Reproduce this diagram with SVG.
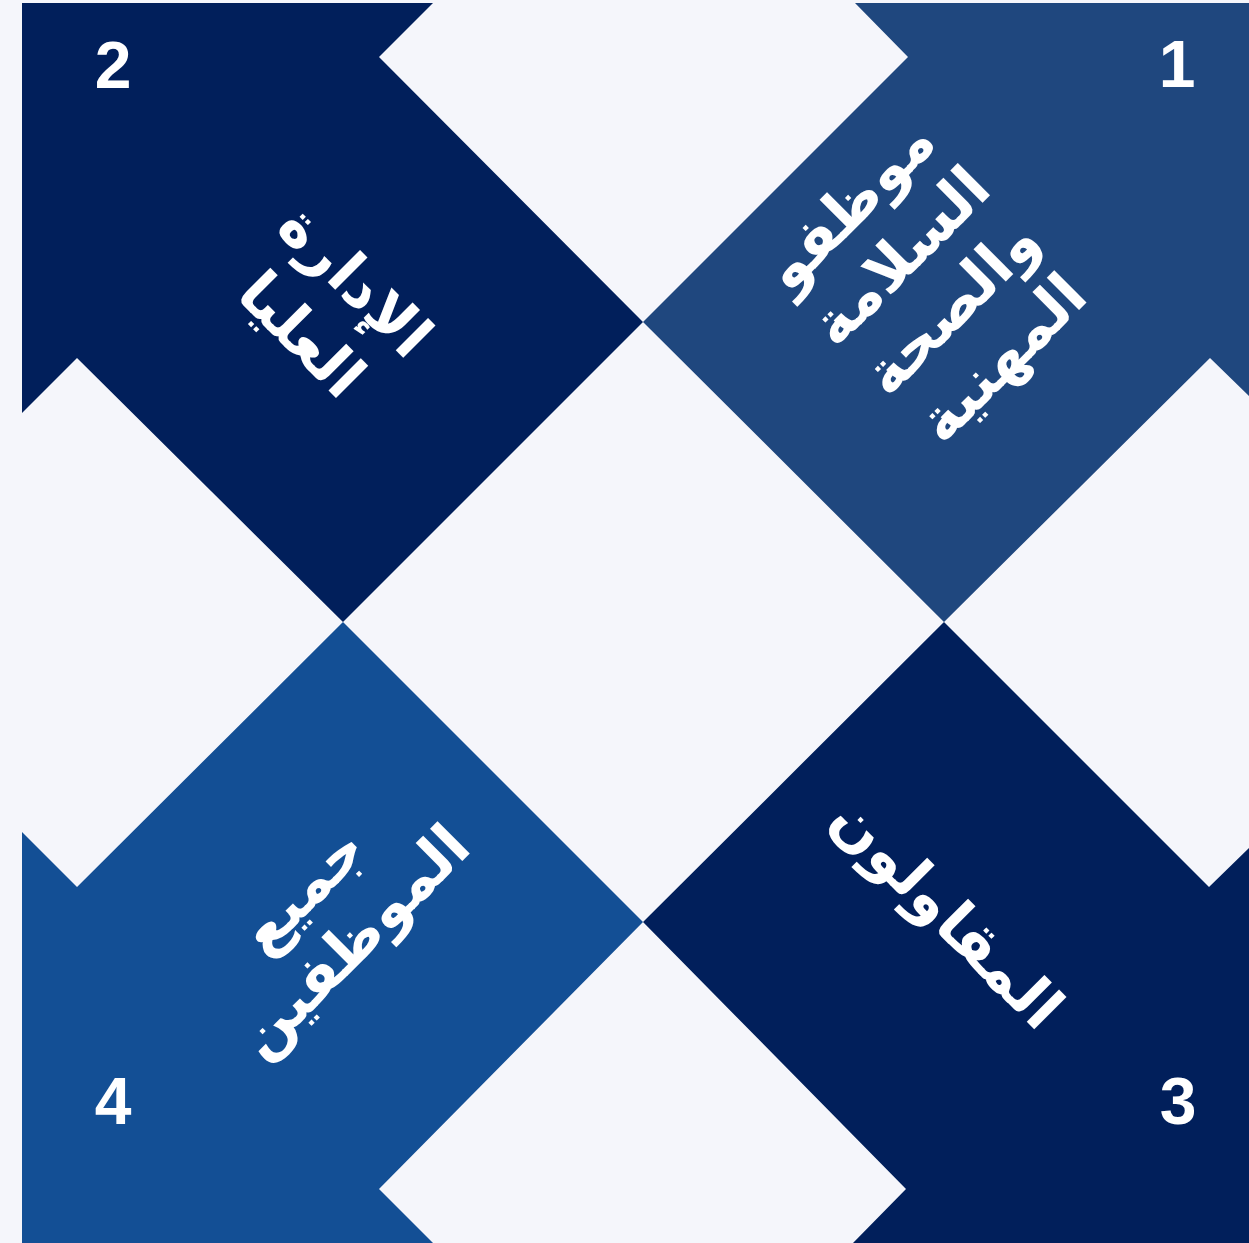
<svg xmlns="http://www.w3.org/2000/svg" width="1249" height="1243" viewBox="0 0 1249 1243">
<style>
.ar{font-family:"DejaVu Sans","Noto Sans",sans-serif;font-weight:bold;font-size:60px;fill:#ffffff;text-anchor:middle;direction:rtl}
.num{font-family:"Liberation Sans",Arial,sans-serif;font-weight:bold;font-size:66px;fill:#ffffff;text-anchor:middle}
</style>
<rect width="1249" height="1243" fill="#f5f6fb"/>
<g id="node1">
<polygon points="855,3 1249,3 1249,396 1210,358 944,622 643,322 908,57" fill="#1f477e"/>
<text class="num" x="1177" y="87">1</text>
<g transform="translate(926,282) rotate(-45)">
<text class="ar" x="0" y="-88">موظفو</text>
<text class="ar" x="0" y="-16">السلامة</text>
<text class="ar" x="0" y="56">والصحة</text>
<text class="ar" x="0" y="128">المهنية</text>
</g>
</g>
<g id="node2">
<polygon points="22,3 433,3 379,57 643,322 343,622 77,358 22,413" fill="#011f5b"/>
<text class="num" x="113" y="88">2</text>
<g transform="translate(328,308) rotate(45)">
<text class="ar" x="0" y="-18">الإدارة</text>
<text class="ar" x="0" y="58">العليا</text>
</g>
</g>
<g id="node3">
<polygon points="643,922 944,622 1209,887 1249,848 1249,1243 853,1243 906,1189" fill="#011f5b"/>
<text class="num" x="1178" y="1124">3</text>
<g transform="translate(948,912) rotate(45)">
<text class="ar" x="0" y="22">المقاولون</text>
</g>
</g>
<g id="node4">
<polygon points="22,832 77,887 343,622 643,922 379,1189 433,1243 22,1243" fill="#134f95"/>
<text class="num" x="113" y="1124">4</text>
<g transform="translate(328,916) rotate(-45)">
<text class="ar" x="0" y="-16">جميع</text>
<text class="ar" x="0" y="56">الموظفين</text>
</g>
</g>
<g id="connectors"/>
</svg>
